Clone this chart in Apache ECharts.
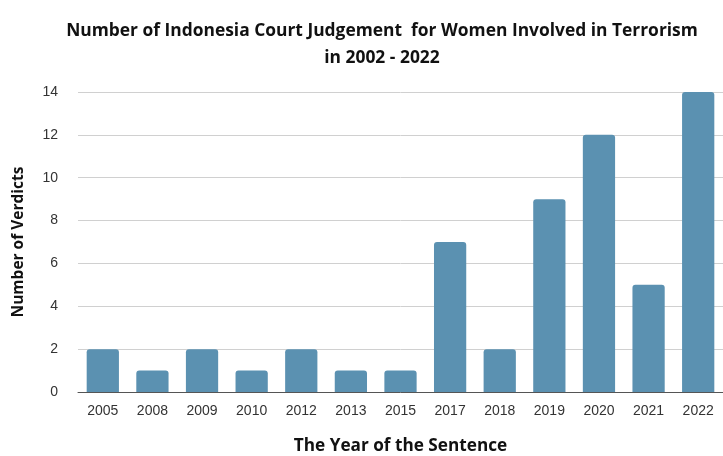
<!DOCTYPE html>
<html>
<head>
<meta charset="utf-8">
<script src="https://cdn.jsdelivr.net/npm/echarts@6/dist/echarts.min.js"></script>
<style>
  html, body { margin: 0; padding: 0; background: #fff; }
  #chart { width: 723px; height: 456px; }
</style>
</head>
<body>
<div id="chart"></div>
<script>
// data
var years = ['2005', '2008', '2009', '2010', '2012', '2013', '2015', '2017', '2018', '2019', '2020', '2021', '2022'];
var verdicts = [2, 1, 2, 1, 2, 1, 1, 7, 2, 9, 12, 5, 14];

var myChart = echarts.init(document.getElementById('chart'));

myChart.setOption({
    animation: false,
    title: {
        text: 'Number of Indonesia Court Judgement  for Women Involved in Terrorism\nin 2002 - 2022',
        left: 377,
        top: 13,
        textAlign: 'center',
        textStyle: {
            fontFamily: 'Open Sans',
            fontWeight: 'bold',
            fontSize: 17.4,
            lineHeight: 27,
            color: '#111'
        }
    },
    grid: {
        left: 78,
        right: 0,
        top: 92,
        bottom: 64,
        outerBoundsMode: 'none'
    },
    xAxis: {
        type: 'category',
        data: years,
        name: 'The Year of the Sentence',
        nameLocation: 'middle',
        nameGap: 46,
        nameTextStyle: {
            fontFamily: 'Open Sans',
            fontWeight: 'bold',
            fontSize: 17.2,
            color: '#111'
        },
        axisTick: { show: false },
        axisLine: { lineStyle: { color: '#555', width: 1 } },
        axisLabel: {
            margin: 12,
            fontFamily: 'Liberation Sans',
            fontSize: 14,
            color: '#333'
        }
    },
    yAxis: {
        type: 'value',
        min: 0,
        max: 14,
        interval: 2,
        name: 'Number of Verdicts',
        nameLocation: 'middle',
        nameGap: 51,
        nameTextStyle: {
            fontFamily: 'Open Sans',
            fontWeight: 'bold',
            fontSize: 15.5,
            color: '#111'
        },
        axisLabel: {
            margin: 20,
            fontFamily: 'Liberation Sans',
            fontSize: 14,
            color: '#333'
        },
        splitLine: { lineStyle: { color: '#d0d0d0', width: 1 } }
    },
    series: [{
        type: 'bar',
        data: verdicts,
        barCategoryGap: '35%',
        itemStyle: {
            color: '#5b91b1',
            borderRadius: [3, 3, 0, 0]
        }
    }]
});
</script>
</body>
</html>
